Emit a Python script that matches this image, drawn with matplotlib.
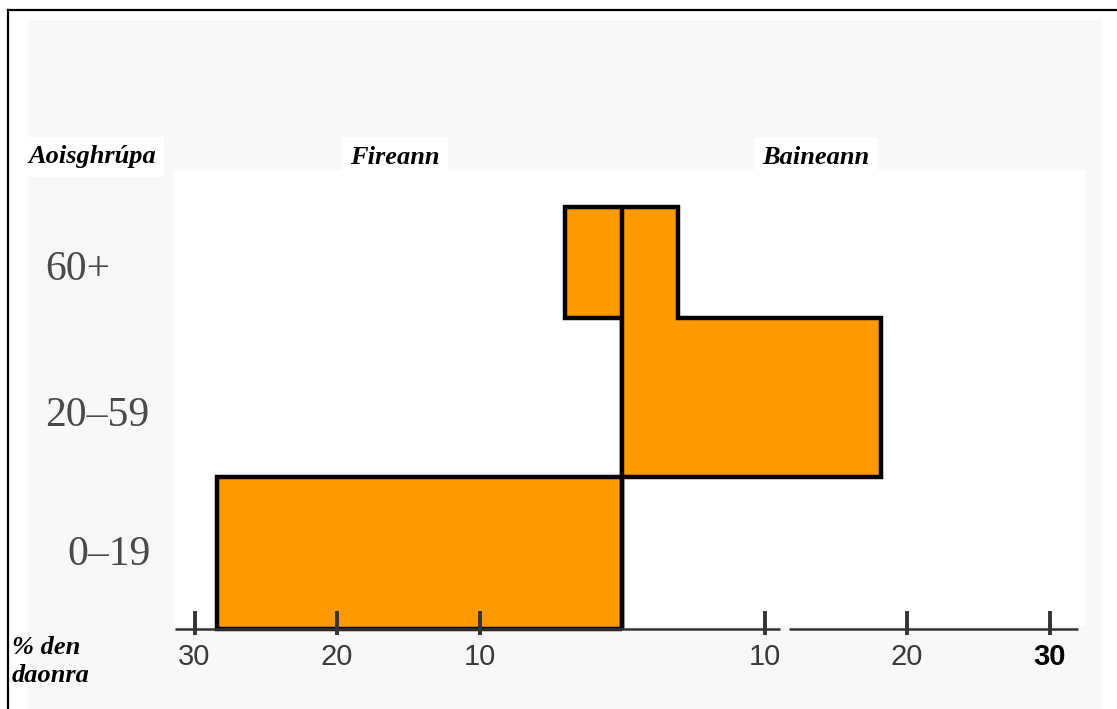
import matplotlib
matplotlib.use("Agg")
import matplotlib.pyplot as plt
from matplotlib.lines import Line2D
from matplotlib.patches import Rectangle

# age groups (bottom to top) and % of population per sex
age_groups = ["0–19", "20–59", "60+"]
male = [28.4, 0.0, 4.0]      # Fireann (drawn to the left)
female = [0.0, 18.2, 3.9]    # Baineann (drawn to the right)

tick_values = [-30, -20, -10, 10, 20, 30]
tick_labels = ["30", "20", "10", "10", "20", "30"]

# vertical extent of each age band (hand drawn, bands are not equal height)
band_edges = [0.0, 1.0, 2.046, 2.776]

W, H = 1117, 709
ORANGE = "#ff9900"

fig = plt.figure(figsize=(W / 100, H / 100), dpi=100)
fig.patch.set_facecolor("white")


def px(x, y):
    # pixel position -> figure fraction
    return x / W, 1 - y / H


# faint scanned-paper background and the cut-off frame
fig.patches.append(Rectangle(px(28, H), (1100 - 28) / W, (H - 20) / H,
                             transform=fig.transFigure, color="#f8f8f8", zorder=-5))
fig.lines.append(Line2D([8 / W, 8 / W], [0, 1 - 10 / H], transform=fig.transFigure,
                        color="black", lw=1.6))
fig.lines.append(Line2D([8 / W, 1], [1 - 10 / H, 1 - 10 / H], transform=fig.transFigure,
                        color="black", lw=1.6))

# axes covering the whole figure: 0 % at pixel 622, 14.25 px per %
scale = 14.25
band_px = 152.0
ax = fig.add_axes([0, 0, 1, 1])
ax.set_zorder(2)
ax.set_xlim(-622 / scale, (W - 622) / scale)
ax.set_ylim(-(H - 629) / band_px, 629 / band_px)
ax.axis("off")
ax.patch.set_alpha(0)

# white area behind the pyramid
ax.add_patch(Rectangle((-31.5, 0.02), 64, 3.0, color="white", zorder=1, lw=0))

# the two halves of the pyramid as step outlines
ax.stairs([-v for v in male], band_edges, orientation="horizontal", baseline=0,
          fill=True, facecolor=ORANGE, edgecolor="black", lw=3.2, zorder=3)
ax.stairs(female, band_edges, orientation="horizontal", baseline=0,
          fill=True, facecolor=ORANGE, edgecolor="black", lw=3.2, zorder=3)
# centre line between the sexes
ax.vlines(0, band_edges[0], band_edges[-1], color="black", lw=3.2, zorder=3.5)

# hand drawn axis (with a small gap) and ticks
ax.hlines([0, 0], [-31.4, 11.7], [11.1, 32.0], color="#333333", lw=1.8, zorder=4)
ax.vlines(tick_values, -6 / band_px, 18 / band_px, color="#333333", lw=2.8, zorder=4)
for v, lab in zip(tick_values, tick_labels):
    last = v == tick_values[-1]
    ax.text(v, -28 / band_px, lab, ha="center", va="center",
            fontsize=21, family="Liberation Sans",
            fontweight="bold" if last else "normal",
            color="black" if last else "#3a3a3a", zorder=5)

# age group labels
label_shift = {"0–19": -0.01, "20–59": -0.12, "60+": -0.05}
for i, lab in enumerate(age_groups):
    yc = (band_edges[i] + band_edges[i + 1]) / 2 + label_shift[lab]
    if lab == "0–19":
        ax.text(-622 / scale + 151 / scale, yc, lab, ha="right", va="center",
                fontsize=30, family="Liberation Serif", color="#4a4a4a", zorder=5)
    else:
        ax.text(-622 / scale + 45 / scale, yc, lab, ha="left", va="center",
                fontsize=30, family="Liberation Serif", color="#4a4a4a", zorder=5)

# headers
hdr = dict(fontsize=19, family="Liberation Serif", fontweight="bold",
           style="italic", color="black", va="center", ha="left",
           bbox=dict(facecolor="white", edgecolor="none", pad=6))
fig.text(*px(28, 157), "Aoisghrúpa", **hdr)
fig.text(*px(350, 157), "Fireann", **hdr)
fig.text(*px(762, 157), "Baineann", **hdr)

foot = dict(fontsize=19, family="Liberation Serif", fontweight="bold",
            style="italic", color="black", va="center", ha="left")
fig.text(*px(12, 647), "% den", **foot)
fig.text(*px(12, 675), "daonra", **foot)

fig.savefig("out.png", dpi=100)
